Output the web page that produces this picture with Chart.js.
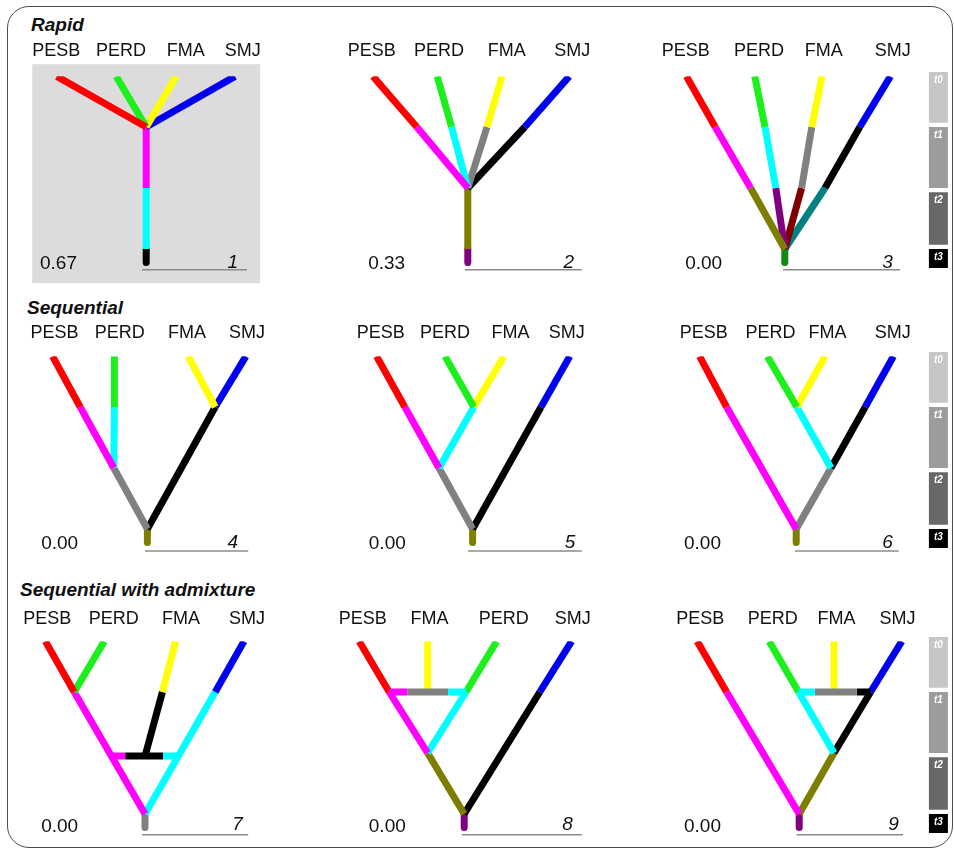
<!DOCTYPE html>
<html>
<head>
<meta charset="utf-8">
<script src="https://cdn.jsdelivr.net/npm/chart.js@4.4.1/dist/chart.umd.min.js"></script>
<style>
  body { margin: 0; background: #fff; width: 954px; height: 849px; position: relative; overflow: hidden; font-family: "Liberation Sans", Arial, sans-serif; }
  .frame { position: absolute; left: 7px; top: 6px; width: 946px; height: 842px; border: 1.5px solid #4d4d4d; border-radius: 22px; box-sizing: border-box; }
  .title { position: absolute; font: italic bold 19px "Liberation Sans", Arial, sans-serif; line-height: 19px; color: #111; white-space: nowrap; }
  canvas { position: absolute; }
</style>
</head>
<body>
<div class="frame"></div>
<div class="title" style="left:31px;top:15px">Rapid</div>
<div class="title" style="left:27px;top:298px">Sequential</div>
<div class="title" style="left:20px;top:580px">Sequential with admixture</div>

<script>
// tip order, posterior and panel number of each of the 9 scenarios
const TAXA = [
  ['PESB', 'PERD', 'FMA', 'SMJ'], ['PESB', 'PERD', 'FMA', 'SMJ'], ['PESB', 'PERD', 'FMA', 'SMJ'],
  ['PESB', 'PERD', 'FMA', 'SMJ'], ['PESB', 'PERD', 'FMA', 'SMJ'], ['PESB', 'PERD', 'FMA', 'SMJ'],
  ['PESB', 'PERD', 'FMA', 'SMJ'], ['PESB', 'FMA', 'PERD', 'SMJ'], ['PESB', 'PERD', 'FMA', 'SMJ']
];
const PROB = ['0.67', '0.33', '0.00', '0.00', '0.00', '0.00', '0.00', '0.00', '0.00'];
const PANEL_NO = ['1', '2', '3', '4', '5', '6', '7', '8', '9'];

// time axis: tips, t1, t2, t3 (root)
const TIP = 0.17;
const BASE = 3.22;
const BANDS = [['t0', 0.1, 0.93], ['t1', 1.0, 2.0], ['t2', 2.07, 2.93], ['t3', 3.0, 3.31]];

// branches: [colour, x from, time from, x to, time to]
const TREE_1 = [
  ['red', 0.78, TIP, 2.27, 1], ['green', 1.77, TIP, 2.27, 1], ['yellow', 2.77, TIP, 2.27, 1], ['blue', 3.75, TIP, 2.27, 1],
  ['magenta', 2.27, 1, 2.27, 2], ['cyan', 2.27, 2, 2.27, 3]
];
const TREE_2 = [
  ['red', 0.80, TIP, 1.53, 1], ['magenta', 1.53, 1, 2.38, 2],
  ['green', 1.87, TIP, 2.11, 1], ['cyan', 2.11, 1, 2.38, 2],
  ['yellow', 2.95, TIP, 2.70, 1], ['gray', 2.70, 1, 2.38, 2],
  ['blue', 4.07, TIP, 3.33, 1], ['black', 3.33, 1, 2.38, 2],
  ['olive', 2.38, 2, 2.38, 3]
];
const TREE_3 = [
  ['red', 0.69, TIP, 1.17, 1], ['magenta', 1.17, 1, 1.76, 2], ['olive', 1.76, 2, 2.33, 3],
  ['green', 1.83, TIP, 2.0, 1], ['cyan', 2.0, 1, 2.18, 2], ['purple', 2.18, 2, 2.33, 3],
  ['yellow', 2.95, TIP, 2.78, 1], ['gray', 2.78, 1, 2.61, 2], ['darkred', 2.61, 2, 2.33, 3],
  ['blue', 4.09, TIP, 3.58, 1], ['black', 3.58, 1, 3.0, 2], ['teal', 3.0, 2, 2.33, 3]
];
const TREE_4 = [
  ['red', 0.71, TIP, 1.17, 1], ['magenta', 1.17, 1, 1.73, 2],
  ['green', 1.74, TIP, 1.74, 1], ['cyan', 1.74, 1, 1.73, 2],
  ['gray', 1.73, 2, 2.29, 3],
  ['yellow', 2.97, TIP, 3.42, 1], ['blue', 3.93, TIP, 3.42, 1],
  ['black', 3.42, 1, 2.29, 3]
];
const TREE_5 = [
  ['red', 0.86, TIP, 1.33, 1], ['magenta', 1.33, 1, 1.9, 2],
  ['green', 2.0, TIP, 2.48, 1], ['yellow', 2.98, TIP, 2.48, 1], ['cyan', 2.48, 1, 1.9, 2],
  ['gray', 1.9, 2, 2.46, 3],
  ['blue', 4.08, TIP, 3.6, 1], ['black', 3.6, 1, 2.46, 3]
];
const TREE_6 = [
  ['red', 0.91, TIP, 1.36, 1], ['magenta', 1.36, 1, 2.52, 3],
  ['green', 2.04, TIP, 2.53, 1], ['yellow', 3.0, TIP, 2.53, 1], ['cyan', 2.53, 1, 3.1, 2],
  ['blue', 4.14, TIP, 3.67, 1], ['black', 3.67, 1, 3.1, 2],
  ['gray', 3.1, 2, 2.52, 3]
];
const TREE_7 = [
  ['magenta', 1.68, 2.05, 1.92, 2.05], ['black', 1.92, 2.05, 2.55, 2.05], ['cyan', 2.55, 2.05, 2.80, 2.05],
  ['red', 0.59, TIP, 1.07, 1], ['green', 1.57, TIP, 1.07, 1], ['magenta', 1.07, 1, 2.25, 3],
  ['yellow', 2.76, TIP, 2.54, 1], ['black', 2.54, 1, 2.25, 2.05],
  ['blue', 3.9, TIP, 3.42, 1], ['cyan', 3.42, 1, 2.25, 3]
];
const TREE_8 = [
  ['magenta', 1.07, 1, 1.37, 1], ['gray', 1.37, 1, 2.05, 1], ['cyan', 2.05, 1, 2.35, 1],
  ['red', 0.57, TIP, 1.07, 1], ['magenta', 1.07, 1, 1.71, 2],
  ['yellow', 1.71, TIP, 1.71, 1],
  ['green', 2.86, TIP, 2.35, 1], ['cyan', 2.35, 1, 1.71, 2],
  ['olive', 1.71, 2, 2.32, 3],
  ['blue', 4.11, TIP, 3.58, 1], ['black', 3.58, 1, 2.32, 3]
];
const TREE_9 = [
  ['cyan', 2.56, 1, 2.83, 1], ['gray', 2.83, 1, 3.53, 1], ['black', 3.53, 1, 3.76, 1],
  ['red', 0.87, TIP, 1.36, 1], ['magenta', 1.36, 1, 2.57, 3],
  ['green', 2.07, TIP, 2.56, 1], ['cyan', 2.56, 1, 3.15, 2],
  ['yellow', 3.15, TIP, 3.15, 1],
  ['blue', 4.28, TIP, 3.76, 1], ['black', 3.76, 1, 3.15, 2],
  ['olive', 3.15, 2, 2.57, 3]
];
const TREES = [TREE_1, TREE_2, TREE_3, TREE_4, TREE_5, TREE_6, TREE_7, TREE_8, TREE_9];

// root stem below t3: [colour, x]
const ROOTS = [['black', 2.27], ['purple', 2.38], ['darkgreen', 2.33], ['olive', 2.29], ['olive', 2.46],
               ['olive', 2.52], ['gray', 2.25], ['purple', 2.32], ['purple', 2.57]];

// where the texts sit along each panel (x units)
const LABEL_X = [[0.77, 1.85, 2.93, 3.88], [0.78, 1.9, 3.03, 4.12], [0.68, 1.9, 2.98, 4.13],
                 [0.74, 1.83, 2.95, 3.95], [0.93, 2.0, 3.09, 4.03], [0.98, 2.09, 3.04, 4.13],
                 [0.62, 1.73, 2.85, 3.95], [0.63, 1.74, 2.98, 4.13], [0.92, 2.13, 3.19, 4.21]];
const PROB_X = [0.5, 0.72, 0.67, 0.52, 0.73, 0.65, 0.52, 0.73, 0.65];
const NUM_X = [3.8, 4.15, 4.13, 3.8, 4.17, 4.13, 3.88, 4.13, 4.23];
const UNDERLINE = [[2.2, 3.95], [2.33, 4.28], [2.3, 4.25], [2.25, 3.97], [2.38, 4.28],
                   [2.5, 4.23], [2.2, 3.97], [2.28, 4.28], [2.53, 4.3]];
const HIGHLIGHT = [0.37, -0.03, 4.17, 3.56]; // shaded box behind panel 1

const COLORS = {
  red: '#ff0000', green: '#1cf01c', yellow: '#ffff00', blue: '#0000f0', magenta: '#ff00ff',
  cyan: '#00ffff', gray: '#808080', black: '#000000', olive: '#7d7d00', purple: '#800080',
  darkred: '#800000', teal: '#008080', darkgreen: '#108a10'
};
const BAND_COLORS = ['#c6c6c6', '#9c9c9c', '#686868', '#000000'];

const FONT = '"Liberation Sans", Arial, sans-serif';
const COL_LEFT = [10, 325, 645];
const ROWS = [
  { top: 5, label: -0.25, text: 3.25, line: 3.34 },
  { top: 285, label: -0.205, text: 3.25, line: 3.36 },
  { top: 570, label: -0.19, text: 3.21, line: 3.34 }
];
const W = 306, H = 287, PX_PER_UNIT = 60, PX_PER_T = 61;
// plot area starts at the tips so branch tops are cut flat
const PAD_TOP = (TIP + 1) * PX_PER_T;

TREES.forEach(function (tree, i) {
  const row = ROWS[Math.floor(i / 3)];
  const col = i % 3;
  const canvas = document.createElement('canvas');
  canvas.width = W;
  canvas.height = H;
  canvas.style.left = COL_LEFT[col] + 'px';
  canvas.style.top = row.top + 'px';
  document.body.appendChild(canvas);

  const tipClip = { left: 30, top: 0, right: 30, bottom: 30 };
  const datasets = tree.map(function (b) {
    return {
      data: [{ x: b[1], y: b[2] }, { x: b[3], y: b[4] }],
      borderColor: COLORS[b[0]], borderWidth: 7, borderCapStyle: 'butt', order: 1, clip: tipClip
    };
  });
  datasets.push({
    data: [{ x: ROOTS[i][1], y: 3 }, { x: ROOTS[i][1], y: BASE }],
    borderColor: COLORS[ROOTS[i][0]], borderWidth: 7, borderCapStyle: 'round', order: 2, clip: false
  });
  datasets.push({
    data: [{ x: UNDERLINE[i][0], y: row.line }, { x: UNDERLINE[i][1], y: row.line }],
    borderColor: '#8c8c8c', borderWidth: 1.5, order: 3, clip: false
  });
  if (col === 2) {
    BANDS.forEach(function (band, k) {
      datasets.push({
        data: [{ x: 4.89, y: band[1] }, { x: 4.89, y: band[2] }],
        borderColor: BAND_COLORS[k], borderWidth: 19, borderCapStyle: 'butt', order: 3, clip: false
      });
    });
  }

  const textPlugin = {
    id: 'treeText',
    beforeDatasetsDraw: function (c) {
      if (i !== 0) return;
      const x = c.scales.x, y = c.scales.y, ctx = c.ctx;
      const x0 = x.getPixelForValue(HIGHLIGHT[0]), y0 = y.getPixelForValue(HIGHLIGHT[1]);
      ctx.save();
      ctx.fillStyle = '#dcdcdc';
      ctx.fillRect(x0, y0, x.getPixelForValue(HIGHLIGHT[2]) - x0, y.getPixelForValue(HIGHLIGHT[3]) - y0);
      ctx.restore();
    },
    afterDatasetsDraw: function (c) {
      const x = c.scales.x, y = c.scales.y, ctx = c.ctx;
      ctx.save();
      ctx.fillStyle = '#111';
      ctx.textBaseline = 'middle';
      ctx.textAlign = 'center';
      ctx.font = '18px ' + FONT;
      TAXA[i].forEach(function (t, j) {
        ctx.fillText(t, x.getPixelForValue(LABEL_X[i][j]), y.getPixelForValue(row.label));
      });
      ctx.textAlign = 'left';
      ctx.font = '19px ' + FONT;
      ctx.fillText(PROB[i], x.getPixelForValue(PROB_X[i]), y.getPixelForValue(row.text));
      ctx.textAlign = 'right';
      ctx.font = 'italic 19px ' + FONT;
      ctx.fillText(PANEL_NO[i], x.getPixelForValue(NUM_X[i]), y.getPixelForValue(row.text) - 2);
      if (col === 2) {
        ctx.fillStyle = '#fff';
        ctx.textAlign = 'center';
        ctx.textBaseline = 'top';
        ctx.font = 'italic bold 10px ' + FONT;
        BANDS.forEach(function (band) {
          ctx.fillText(band[0], x.getPixelForValue(4.89), y.getPixelForValue(band[1]) + 3);
        });
      }
      ctx.restore();
    }
  };

  new Chart(canvas.getContext('2d'), {
    type: 'scatter',
    data: { datasets: datasets },
    options: {
      responsive: false,
      animation: false,
      events: [],
      layout: { padding: { top: PAD_TOP, left: 0, right: 0, bottom: 0 } },
      showLine: true,
      elements: { point: { radius: 0 }, line: { tension: 0 } },
      plugins: { legend: { display: false }, tooltip: { enabled: false } },
      scales: {
        x: { type: 'linear', min: 0, max: W / PX_PER_UNIT, display: false },
        y: { type: 'linear', min: TIP, max: TIP + (H - PAD_TOP) / PX_PER_T, reverse: true, display: false }
      }
    },
    plugins: [textPlugin]
  });
});
</script>
</body>
</html>
